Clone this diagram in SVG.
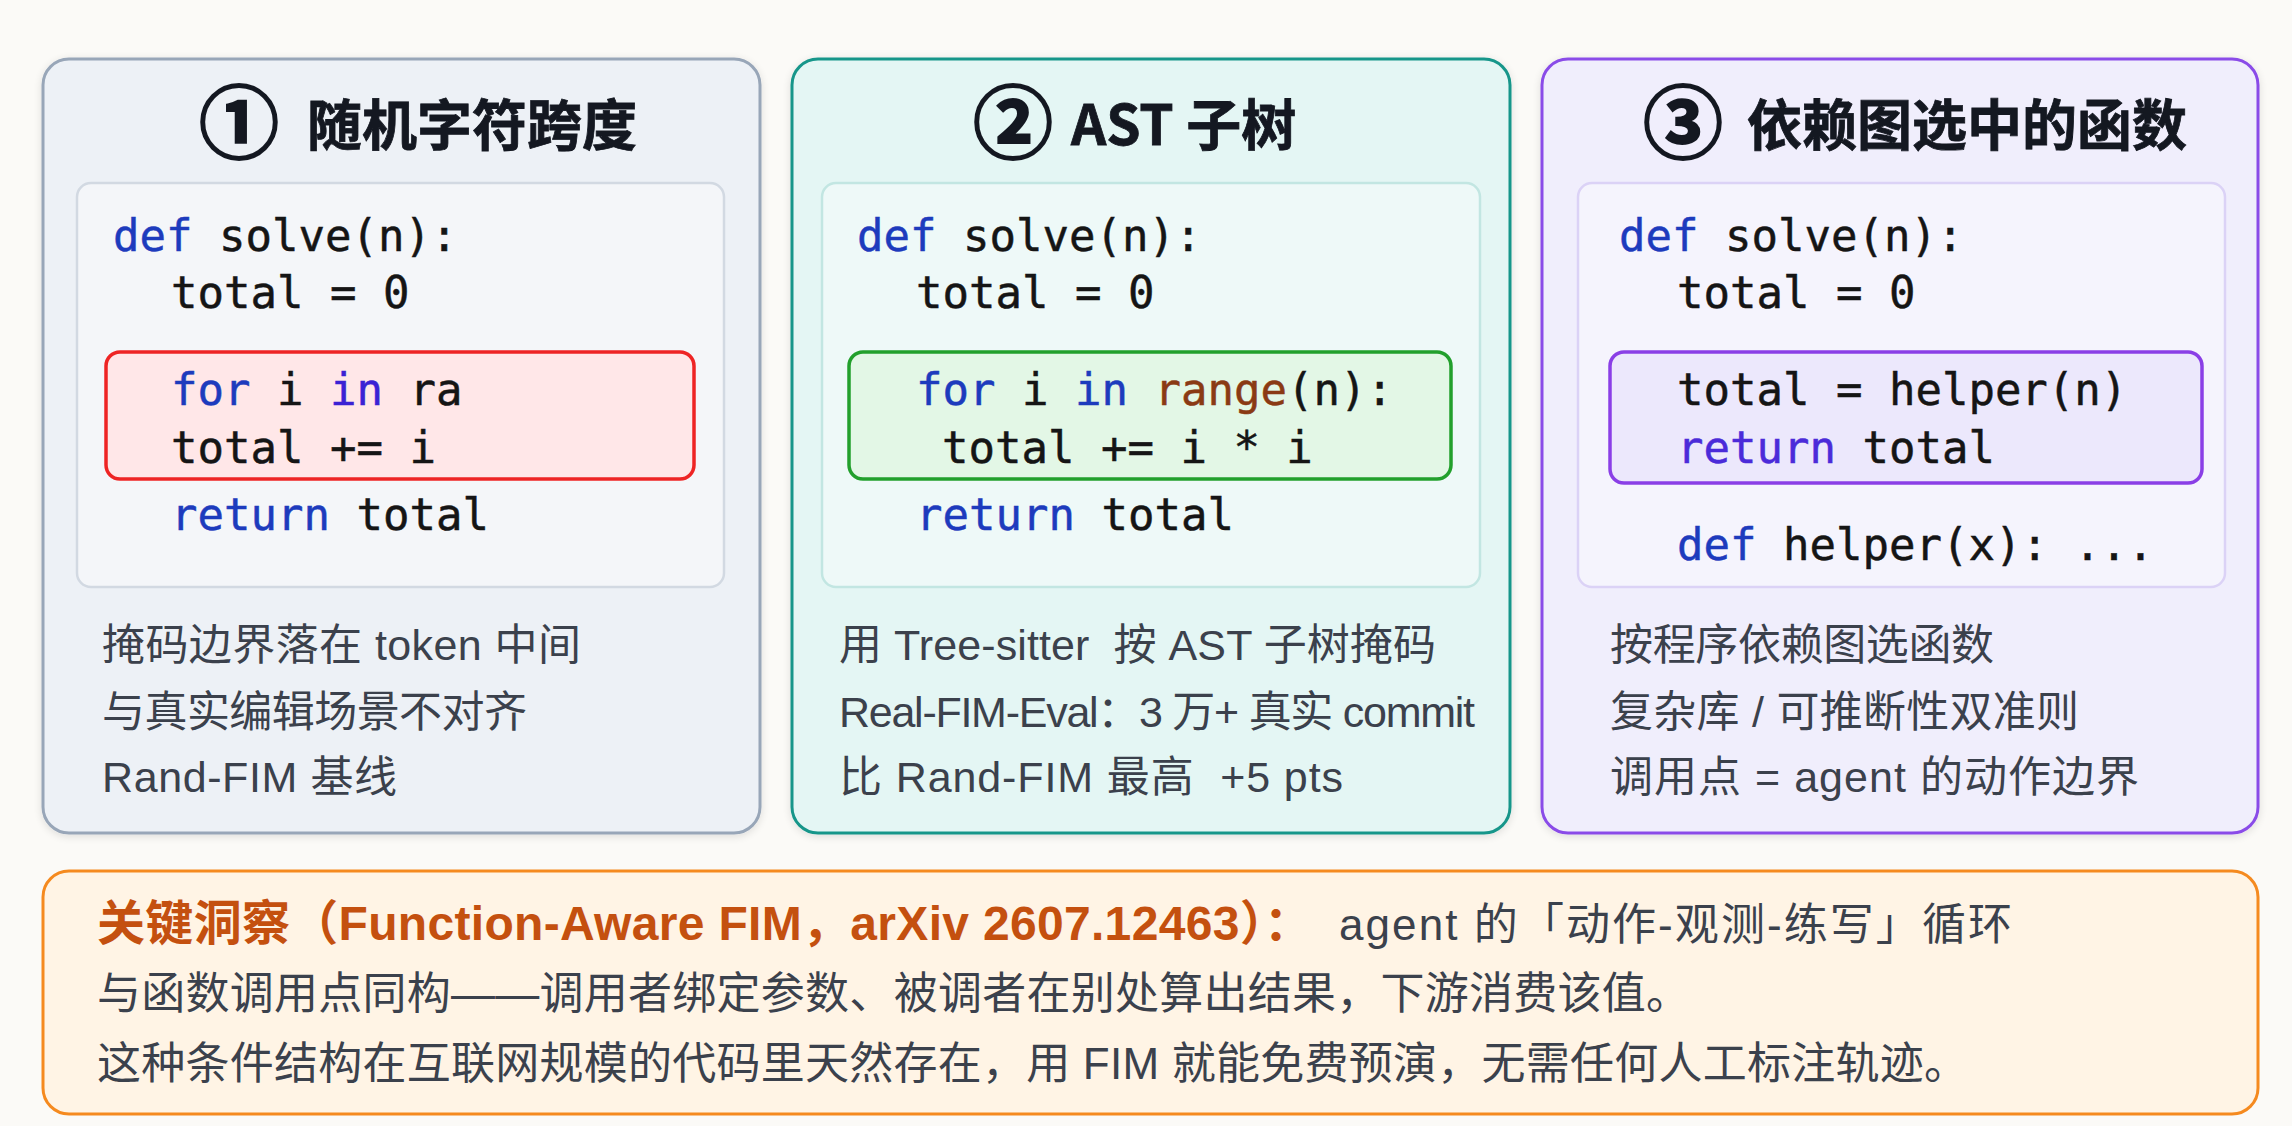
<svg xmlns="http://www.w3.org/2000/svg" width="2292" height="1126" viewBox="0 0 2292 1126">
  <defs>
    <filter id="glow" x="-5%" y="-5%" width="110%" height="110%">
      <feGaussianBlur in="SourceAlpha" stdDeviation="4"/>
      <feOffset dy="2" result="b"/>
      <feComponentTransfer><feFuncA type="linear" slope="0.12"/></feComponentTransfer>
      <feMerge><feMergeNode/><feMergeNode in="SourceGraphic"/></feMerge>
    </filter>
  </defs>
  <style>
    .title { font-family: "Noto Sans CJK SC", sans-serif; font-weight: 700; font-size: 55px; fill: #141821; stroke: #141821; stroke-width: 0.8px; }
    .num { font-family: "Noto Sans CJK SC", sans-serif; font-weight: 700; font-size: 80px; fill: #141821; stroke: #141821; stroke-width: 2px; text-anchor: middle; }
    .body { font-family: "Liberation Sans", "Noto Sans CJK SC", sans-serif; font-size: 43px; fill: #3b414c; white-space: pre; }
    .code { font-family: "DejaVu Sans Mono", "Liberation Mono", monospace; font-size: 44px; fill: #151515; stroke: #151515; stroke-width: 0.5px; white-space: pre; }
    .kw { fill: #1d3bbd; stroke: #1d3bbd; }
    .kw2 { fill: #3a22d4; stroke: #3a22d4; }
    .kw3 { fill: #4b2bd9; stroke: #4b2bd9; }
    .bi { fill: #8a3a14; stroke: #8a3a14; }
    .note { font-family: "Liberation Sans", "Noto Sans CJK SC", sans-serif; font-size: 44px; fill: #3b414c; white-space: pre; }
    .noteb { font-family: "Liberation Sans", "Noto Sans CJK SC", sans-serif; font-weight: 700; font-size: 48px; fill: #c4500f; }
    .panel { stroke-width: 3; }
    .inner { stroke-width: 2.5; }
    .hl { stroke-width: 3.5; }
  </style>
  <rect x="0" y="0" width="2292" height="1126" fill="#fbfaf7"/>

  <g id="connectors"></g>

  <g id="panel1">
    <rect class="panel" x="43" y="59" width="717" height="774" rx="26" fill="#edf1f6" stroke="#98a6b8" filter="url(#glow)"/>
    <text class="num" x="239" y="152">①</text>
    <text class="title" x="307" y="145">随机字符跨度</text>
    <rect class="inner" x="77" y="183" width="647" height="404" rx="14" fill="#f4f6f9" stroke="#d2d9e2"/>
    <text class="code" x="113" y="251"><tspan class="kw">def</tspan> solve(n):</text>
    <text class="code" x="171" y="308">total = 0</text>
    <rect class="hl" x="106" y="352" width="588" height="127" rx="14" fill="#ffe7e8" stroke="#ee2424"/>
    <text class="code" x="171" y="405"><tspan class="kw">for</tspan> i <tspan class="kw2">in</tspan> ra</text>
    <text class="code" x="171" y="463">total += i</text>
    <text class="code" x="171" y="530"><tspan class="kw">return</tspan> total</text>
    <text class="body" x="102" y="660" textLength="479" lengthAdjust="spacing">掩码边界落在 token 中间</text>
    <text class="body" x="102" y="727" textLength="425" lengthAdjust="spacing">与真实编辑场景不对齐</text>
    <text class="body" x="102" y="792" textLength="295" lengthAdjust="spacing">Rand-FIM 基线</text>
  </g>

  <g id="panel2">
    <rect class="panel" x="792" y="59" width="718" height="774" rx="26" fill="#e4f6f4" stroke="#17968a" filter="url(#glow)"/>
    <text class="num" x="1013" y="152">②</text>
    <text class="title" x="1071" y="145">AST 子树</text>
    <rect class="inner" x="822" y="183" width="658" height="404" rx="14" fill="#eef9f8" stroke="#c2e6e2"/>
    <text class="code" x="857" y="251"><tspan class="kw">def</tspan> solve(n):</text>
    <text class="code" x="916" y="308">total = 0</text>
    <rect class="hl" x="849" y="352" width="602" height="127" rx="14" fill="#e3f7e6" stroke="#22a02c"/>
    <text class="code" x="916" y="405"><tspan class="kw">for</tspan> i <tspan class="kw">in</tspan> <tspan class="bi">range</tspan>(n):</text>
    <text class="code" x="942" y="463">total += i * i</text>
    <text class="code" x="916" y="530"><tspan class="kw">return</tspan> total</text>
    <text class="body" x="839" y="660" textLength="597" lengthAdjust="spacing">用 Tree-sitter  按 AST 子树掩码</text>
    <text class="body" x="839" y="727" textLength="636" lengthAdjust="spacing">Real-FIM-Eval：3 万+ 真实 commit</text>
    <text class="body" x="839" y="792" textLength="504" lengthAdjust="spacing">比 Rand-FIM 最高  +5 pts</text>
  </g>

  <g id="panel3">
    <rect class="panel" x="1542" y="59" width="716" height="774" rx="26" fill="#f0eefc" stroke="#8a4ce8" filter="url(#glow)"/>
    <text class="num" x="1683" y="152">③</text>
    <text class="title" x="1747" y="145">依赖图选中的函数</text>
    <rect class="inner" x="1578" y="183" width="647" height="404" rx="14" fill="#f5f4fd" stroke="#dbd2f6"/>
    <text class="code" x="1619" y="251"><tspan class="kw">def</tspan> solve(n):</text>
    <text class="code" x="1677" y="308">total = 0</text>
    <rect class="hl" x="1610" y="352" width="592" height="131" rx="14" fill="#ece8fc" stroke="#8a3fe6"/>
    <text class="code" x="1677" y="405">total = helper(n)</text>
    <text class="code" x="1677" y="463"><tspan class="kw3">return</tspan> total</text>
    <text class="code" x="1677" y="560"><tspan class="kw">def</tspan> helper(x): ...</text>
    <text class="body" x="1610" y="660" textLength="384" lengthAdjust="spacing">按程序依赖图选函数</text>
    <text class="body" x="1610" y="727" textLength="469" lengthAdjust="spacing">复杂库 / 可推断性双准则</text>
    <text class="body" x="1610" y="792" textLength="529" lengthAdjust="spacing">调用点 = agent 的动作边界</text>
  </g>

  <g id="insight">
    <rect class="panel" x="43" y="871" width="2215" height="243" rx="26" fill="#fff4e5" stroke="#f58a1f"/>
    <text class="noteb" x="97" y="940" textLength="1215" lengthAdjust="spacing">关键洞察（Function-Aware FIM，arXiv 2607.12463）：</text>
    <text class="note" x="1339" y="940" textLength="673" lengthAdjust="spacing">agent 的「动作-观测-练写」循环</text>
    <text class="note" x="97" y="1009" textLength="1593" lengthAdjust="spacing">与函数调用点同构——调用者绑定参数、被调者在别处算出结果，下游消费该值。</text>
    <text class="note" x="97" y="1079" textLength="1871" lengthAdjust="spacing">这种条件结构在互联网规模的代码里天然存在，用 FIM 就能免费预演，无需任何人工标注轨迹。</text>
  </g>
</svg>
